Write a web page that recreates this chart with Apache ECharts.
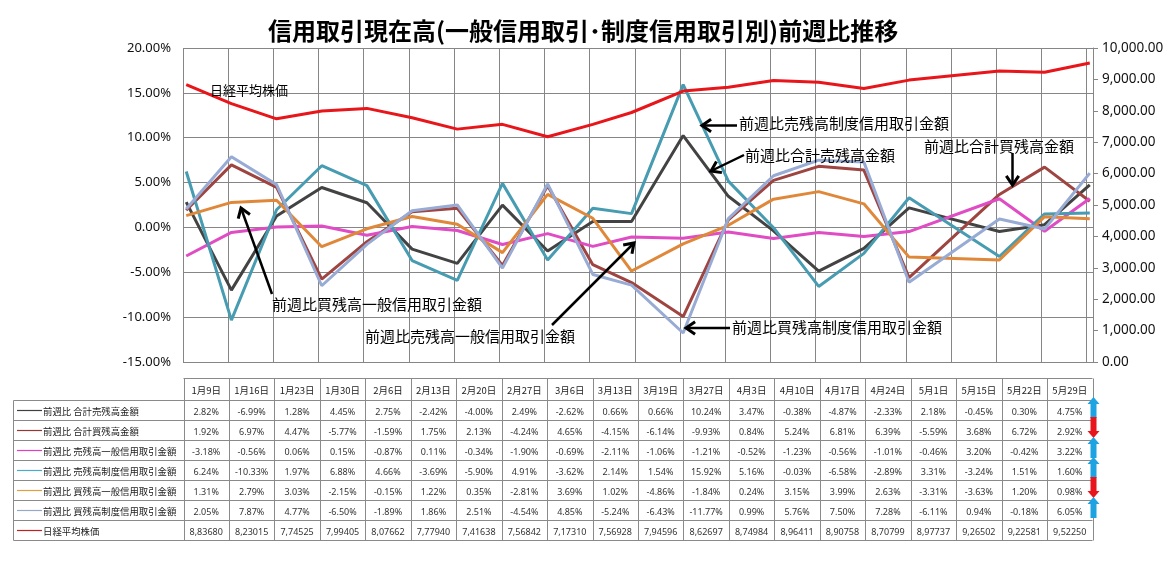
<!DOCTYPE html>
<html><head><meta charset="utf-8">
<script src="https://cdn.jsdelivr.net/npm/echarts@6/dist/echarts.min.js"></script>
<style>
html,body{margin:0;padding:0;background:#fff;}
#wrap{position:relative;width:1175px;height:572px;overflow:hidden;}
#chart{position:absolute;left:0;top:0;width:1175px;height:572px;}
#table{position:absolute;left:0;top:0;}
</style></head><body>
<div id="wrap"><div id="chart"></div><svg id="table" width="1175" height="572" xmlns="http://www.w3.org/2000/svg"></svg></div>
<script>
// ---------------- data ----------------
const YEAR = 2009;
const dates = ['1/9','1/16','1/23','1/30','2/6','2/13','2/20','2/27','3/6','3/13','3/19','3/27','4/3','4/10','4/17','4/24','5/1','5/15','5/22','5/29'];
const sellTotal   = [2.82,-6.99,1.28,4.45,2.75,-2.42,-4.00,2.49,-2.62,0.66,0.66,10.24,3.47,-0.38,-4.87,-2.33,2.18,-0.45,0.30,4.75];
const buyTotal    = [1.92,6.97,4.47,-5.77,-1.59,1.75,2.13,-4.24,4.65,-4.15,-6.14,-9.93,0.84,5.24,6.81,6.39,-5.59,3.68,6.72,2.92];
const sellGeneral = [-3.18,-0.56,0.06,0.15,-0.87,0.11,-0.34,-1.90,-0.69,-2.11,-1.06,-1.21,-0.52,-1.23,-0.56,-1.01,-0.46,3.20,-0.42,3.22];
const sellSystem  = [6.24,-10.33,1.97,6.88,4.66,-3.69,-5.90,4.91,-3.62,2.14,1.54,15.92,5.16,-0.03,-6.58,-2.89,3.31,-3.24,1.51,1.60];
const buyGeneral  = [1.31,2.79,3.03,-2.15,-0.15,1.22,0.35,-2.81,3.69,1.02,-4.86,-1.84,0.24,3.15,3.99,2.63,-3.31,-3.63,1.20,0.98];
const buySystem   = [2.05,7.87,4.77,-6.50,-1.89,1.86,2.51,-4.54,4.85,-5.24,-6.43,-11.77,0.99,5.76,7.50,7.28,-6.11,0.94,-0.18,6.05];
const nikkei      = [8836.80,8230.15,7745.25,7994.05,8076.62,7779.40,7416.38,7568.42,7173.10,7569.28,7945.96,8626.97,8749.84,8964.11,8907.58,8707.99,8977.37,9265.02,9225.81,9522.50];
const rowLabels = ['前週比 合計売残高金額','前週比 合計買残高金額','前週比 売残高一般信用取引金額','前週比 売残高制度信用取引金額','前週比 買残高一般信用取引金額','前週比 買残高制度信用取引金額','日経平均株価'];
const trends = ['up','down','up','up','down','up'];
const titleText = '信用取引現在高(一般信用取引･制度信用取引別)前週比推移';
const leftAxis = {min:-15, max:20, step:5};
const rightAxis = {min:0, max:10000, step:1000};

// ---------------- styles ----------------
const colors = ['#434343','#9E4441','#E04CC4','#479CB1','#E0883A','#98ABD4','#E8161A'];
const legendColors = ['#404040','#953735','#E040C0','#4BACC6','#E0A040','#95A9C8','#C02020'];
const valueSets = [sellTotal,buyTotal,sellGeneral,sellSystem,buyGeneral,buySystem,nikkei];

// x position: days from first date (date axis, each day a band)
const t0 = Date.UTC(YEAR,0,9);
const dayPos = dates.map(d => { const [m,dd] = d.split('/').map(Number); return (Date.UTC(YEAR,m-1,dd)-t0)/864e5 + 0.5; });
const xMax = dayPos[dayPos.length-1] + 0.5;

const series = valueSets.map((vals,i) => ({
  type:'line', name: rowLabels[i], yAxisIndex: i===6 ? 1 : 0,
  data: vals.map((v,j)=>[dayPos[j], v]),
  showSymbol:false, symbol:'none', smooth:false,
  lineStyle:{color:colors[i], width:3}, itemStyle:{color:colors[i]},
  z: 2+i, animation:false
}));

// ---------------- annotations (layout) ----------------
const notes = [
  {text:'日経平均株価', x:210, y:90, size:13},
  {text:'前週比売残高制度信用取引金額', x:739, y:123, size:15, arrow:[737,125.5,702,125.5]},
  {text:'前週比合計売残高金額', x:745, y:155, size:15, arrow:[744,155,711,171]},
  {text:'前週比合計買残高金額', x:924, y:146, size:15, arrow:[1012.5,153,1012.5,185]},
  {text:'前週比買残高一般信用取引金額', x:272, y:304, size:15, arrow:[272,294,241,208]},
  {text:'前週比売残高一般信用取引金額', x:365, y:336, size:15, arrow:[552,325,634,243]},
  {text:'前週比買残高制度信用取引金額', x:732, y:327, size:15, arrow:[730,328,686,328]}
];
const graphics = [];
notes.forEach(n => {
  graphics.push({type:'text', x:n.x, y:n.y, z:100, style:{text:n.text, fill:'#000', font:n.size+'px "Noto Sans CJK JP"', verticalAlign:'middle', align:'left', textVerticalAlign:'middle'}});
  if (n.arrow) {
    const [x1,y1,x2,y2] = n.arrow;
    const a = Math.atan2(y2-y1, x2-x1), L = 11, w = 0.6;
    const p1 = [x2 - L*Math.cos(a-w), y2 - L*Math.sin(a-w)];
    const p2 = [x2 - L*Math.cos(a+w), y2 - L*Math.sin(a+w)];
    graphics.push({type:'polyline', z:100, shape:{points:[[x1,y1],[x2,y2]]}, style:{stroke:'#000', lineWidth:2.5, fill:null}});
    graphics.push({type:'polyline', z:100, shape:{points:[p1,[x2,y2],p2]}, style:{stroke:'#000', lineWidth:3, fill:null, lineJoin:'miter'}});
  }
});

const chart = echarts.init(document.getElementById('chart'), null, {renderer:'canvas'});
chart.setOption({
  animation:false,
  backgroundColor:'#fff',
  title:{text:titleText, left:263, top:14, textStyle:{fontSize:24, fontWeight:'bold', color:'#000', fontFamily:'"Noto Sans CJK JP"'}},
  grid:{left:183, right:82, top:48, bottom:210, containLabel:false},
  xAxis:{type:'value', min:0, max:xMax, interval:7,
    axisLine:{show:false}, axisTick:{show:false}, axisLabel:{show:false},
    splitLine:{show:true, lineStyle:{color:'#868686', width:1}}},
  yAxis:[
    {type:'value', min:leftAxis.min, max:leftAxis.max, interval:leftAxis.step,
     axisLine:{show:false}, axisTick:{show:false},
     axisLabel:{margin:12, color:'#111', fontSize:13, fontFamily:'"Noto Sans"', formatter:v=>v.toFixed(2)+'%'},
     splitLine:{show:true, lineStyle:{color:'#868686', width:1}}},
    {type:'value', min:rightAxis.min, max:rightAxis.max, interval:rightAxis.step, position:'right',
     axisLine:{show:true, lineStyle:{color:'#868686', width:1}},
     axisTick:{show:true, length:5, inside:false, lineStyle:{color:'#868686'}},
     axisLabel:{margin:9, color:'#111', fontSize:13.5, fontFamily:'"Noto Sans"',
       formatter:v=>v.toLocaleString('en-US',{minimumFractionDigits:2, maximumFractionDigits:2})},
     splitLine:{show:false}}
  ],
  series: series,
  graphic: graphics
});

// ---------------- data table ----------------
const svg = document.getElementById('table');
const NS = 'http://www.w3.org/2000/svg';
function el(tag, attrs, text){ const e=document.createElementNS(NS,tag); for (const k in attrs) e.setAttribute(k, attrs[k]); if (text!=null) e.textContent=text; svg.appendChild(e); return e; }
const tLeft = 13.5, colX0 = 183.5, nCols = dates.length, colW = (1092.5-183.5)/nCols;
const hdrTop = 378.5, hdrH = 22, rowH = 20, nRows = rowLabels.length;
const rowTop = i => hdrTop + hdrH + i*rowH;
const tRight = colX0 + nCols*colW;
const lineCol = '#8a8a8a';
// header
el('line',{x1:colX0,y1:hdrTop,x2:tRight,y2:hdrTop,stroke:lineCol,'stroke-width':1});
for (let j=0;j<=nCols;j++){ const x=Math.round(colX0+j*colW)+0.5; el('line',{x1:x,y1:hdrTop,x2:x,y2:rowTop(nRows),stroke:lineCol,'stroke-width':1}); }
for (let i=0;i<=nRows;i++){ const y=rowTop(i); el('line',{x1:tLeft,y1:y,x2:tRight,y2:y,stroke:lineCol,'stroke-width':1}); }
el('line',{x1:tLeft,y1:rowTop(0),x2:tLeft,y2:rowTop(nRows),stroke:lineCol,'stroke-width':1});
dates.forEach((d,j)=>{ const [m,dd]=d.split('/');
  el('text',{x:colX0+(j+0.5)*colW, y:hdrTop+hdrH/2+0.5, 'text-anchor':'middle','dominant-baseline':'central','font-family':'Noto Sans CJK JP','font-size':9.5, fill:'#222'}, m+'月'+dd+'日'); });
rowLabels.forEach((lab,i)=>{
  const cy = rowTop(i)+rowH/2;
  el('line',{x1:17,y1:cy,x2:42,y2:cy,stroke:legendColors[i],'stroke-width':1.2});
  el('text',{x:43, y:cy, 'dominant-baseline':'central','font-family':'Noto Sans CJK JP','font-size':9.4, fill:'#222'}, lab);
  valueSets[i].forEach((v,j)=>{
    const s = i===6 ? v.toLocaleString('en-US',{minimumFractionDigits:2,maximumFractionDigits:2}).replace('.','') : v.toFixed(2)+'%';
    el('text',{x:colX0+(j+0.5)*colW, y:cy+0.5, 'text-anchor':'middle','dominant-baseline':'central','font-family':'Noto Sans','font-size':9, fill:'#333'}, s);
  });
});
// trend arrows at right edge
trends.forEach((t,i)=>{
  const top = rowTop(i)-3.5, bot = rowTop(i)+rowH-2.5, cx = 1093.5, sw = 3, hw = 6, hh = 7;
  const col = t==='up' ? '#1DA3E2' : '#E8151C';
  let pts;
  if (t==='up') pts = [[cx,top],[cx+hw,top+hh],[cx+sw,top+hh],[cx+sw,bot],[cx-sw,bot],[cx-sw,top+hh],[cx-hw,top+hh]];
  else pts = [[cx,bot],[cx+hw,bot-hh],[cx+sw,bot-hh],[cx+sw,top],[cx-sw,top],[cx-sw,bot-hh],[cx-hw,bot-hh]];
  el('polygon',{points:pts.map(p=>p.join(',')).join(' '), fill:col});
});
</script>
</body></html>
